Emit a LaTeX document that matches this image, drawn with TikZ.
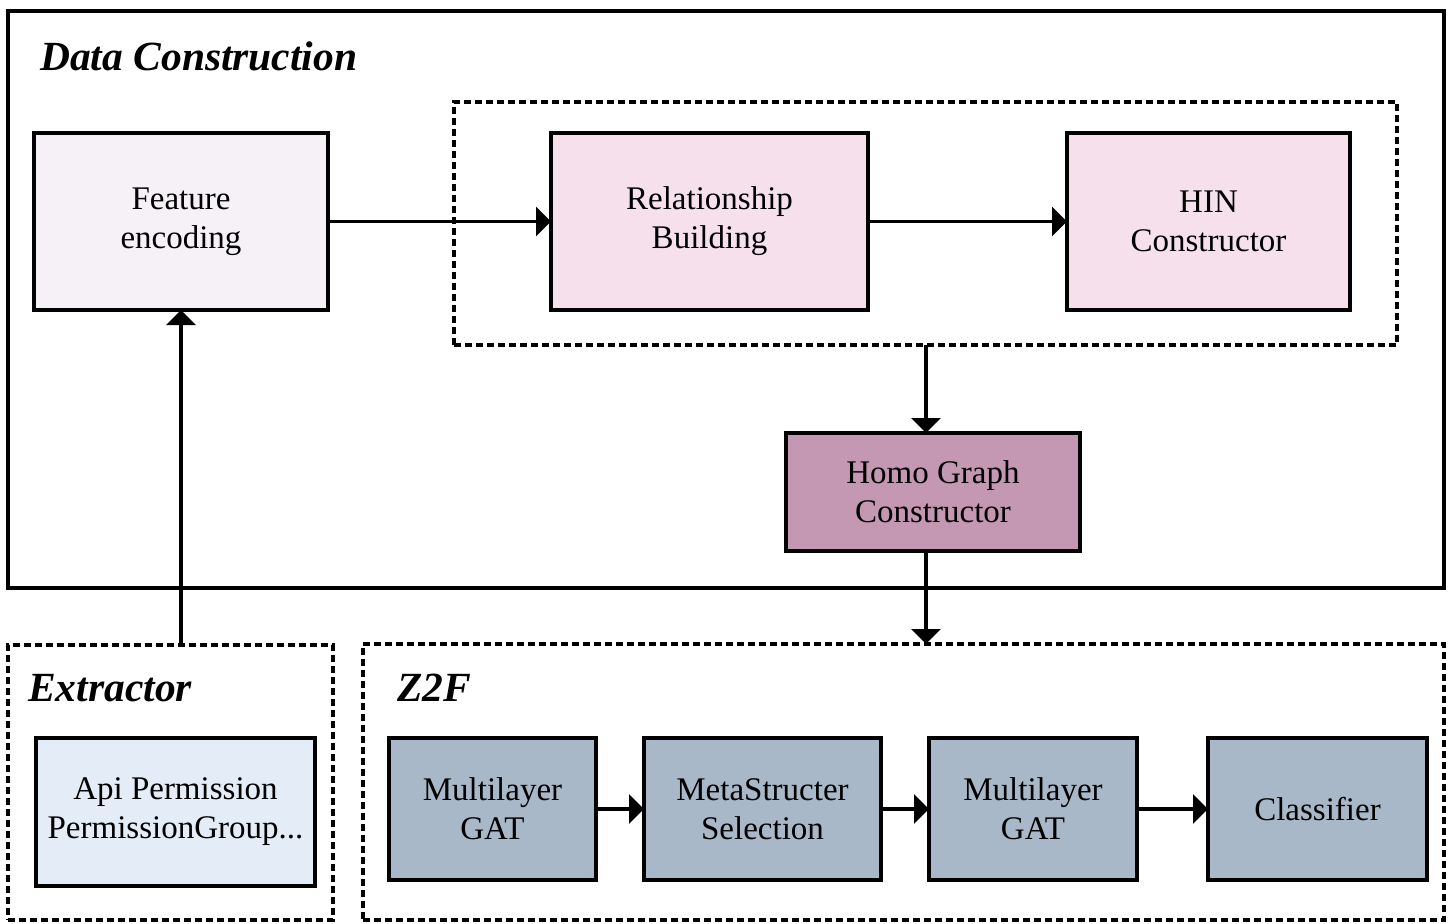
\documentclass[tikz,border=0pt]{standalone}
\usepackage{fontspec}
\setmainfont{Liberation Serif}
\usetikzlibrary{arrows.meta}

\definecolor{featfill}{HTML}{F5F1F7}
\definecolor{pinkfill}{HTML}{F5E0EC}
\definecolor{homofill}{HTML}{C497B3}
\definecolor{apifill}{HTML}{E4ECF8}
\definecolor{gatfill}{HTML}{A9B8C8}

\tikzset{
  stagebox/.style={draw, line width=3.8pt, rectangle, outer sep=0pt, inner sep=0pt,
    align=center, font=\fontsize{33}{39}\selectfont},
  groupbox/.style={draw, line width=3.2pt, rectangle, outer sep=0pt, inner sep=0pt},
  dashgroup/.style={groupbox, dash pattern=on 7pt off 4pt},
  grouptitle/.style={anchor=base west, inner sep=0pt, font=\fontsize{41.5}{48}\selectfont\bfseries\itshape},
  flow/.style={line width=3.5pt, -{Triangle[length=15pt,width=29pt]}}
}

\begin{document}
\begin{tikzpicture}[x=1pt,y=-1pt]
\useasboundingbox (0,0) rectangle (1449,924);

% group frames
\node[groupbox, minimum width=1436pt, minimum height=577pt] (dc) at (726,299.5) {};
\node[dashgroup, minimum width=943pt, minimum height=243pt] (hinarea) at (925.5,223.5) {};
\node[dashgroup, minimum width=325pt, minimum height=275pt] (extr) at (170.5,782.5) {};
\node[dashgroup, minimum width=1081pt, minimum height=276pt] (z2f) at (903.5,782) {};

% group titles
\node[grouptitle] (dctitle) at (40,70) {Data Construction};
\node[grouptitle] (extitle) at (28,701) {Extractor};
\node[grouptitle] (z2ftitle) at (397,701) {Z2F};

% data construction stages
\node[stagebox, fill=featfill, minimum width=294pt, minimum height=177pt] (feat) at (181,221.5) {Feature\\encoding};
\node[stagebox, fill=pinkfill, minimum width=317pt, minimum height=177pt] (rel) at (709.5,221.5) {Relationship\\Building};
\node[stagebox, fill=pinkfill, minimum width=283pt, minimum height=177pt] (hin) at (1208.5,221.5) {HIN\\Constructor};
\node[stagebox, fill=homofill, minimum width=294pt, minimum height=118pt] (homo) at (933,492) {Homo Graph\\Constructor};

% extractor
\node[stagebox, fill=apifill, minimum width=279pt, minimum height=148pt] (api) at (175.5,812) {Api Permission\\PermissionGroup...};

% Z2F pipeline
\node[stagebox, fill=gatfill, minimum width=207pt, minimum height=142pt] (gat1) at (492.5,809) {Multilayer\\GAT};
\node[stagebox, fill=gatfill, minimum width=237pt, minimum height=142pt] (meta) at (762.5,809) {MetaStructer\\Selection};
\node[stagebox, fill=gatfill, minimum width=208pt, minimum height=142pt] (gat2) at (1033,809) {Multilayer\\GAT};
\node[stagebox, fill=gatfill, minimum width=219pt, minimum height=142pt] (cls) at (1317.5,809) {Classifier};

% connectors
\coordinate (hinout) at (926,345);
\coordinate (homoin) at (926,433);
\coordinate (homoout) at (926,551);
\coordinate (z2fin) at (926,644);

\draw[flow] (feat.east) -- (rel.west);
\draw[flow] (rel.east) -- (hin.west);
\draw[flow] (hinout) -- (homoin);
\draw[flow] (homoout) -- (z2fin);
\draw[flow] (extr.north -| feat.south) -- (feat.south);
\draw[flow] (gat1.east) -- (meta.west);
\draw[flow] (meta.east) -- (gat2.west);
\draw[flow] (gat2.east) -- (cls.west);
\end{tikzpicture}
\end{document}
